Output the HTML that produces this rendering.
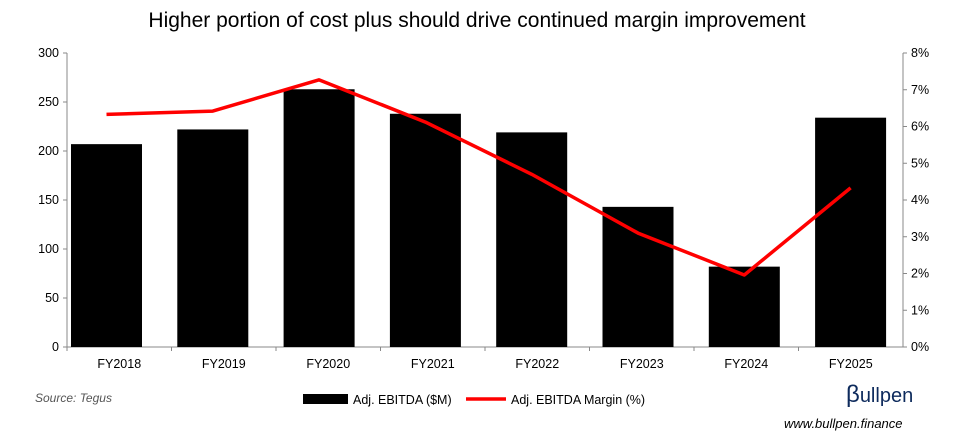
<!DOCTYPE html>
<html><head><meta charset="utf-8"><style>
body{margin:0;background:#fff;font-family:"Liberation Sans",sans-serif}
svg{display:block}
</style></head><body>
<svg id="c" width="955" height="446" xmlns="http://www.w3.org/2000/svg">
<text x="477" y="27" text-anchor="middle" font-size="21">Higher portion of cost plus should drive continued margin improvement</text>
<g id="g"></g>
<text x="35" y="402" font-size="12" font-style="italic" fill="#555">Source: Tegus</text>
<rect x="303" y="394" width="45" height="10" fill="#000"/>
<text x="353" y="404" font-size="12.5">Adj. EBITDA ($M)</text>
<line x1="466" y1="399" x2="506" y2="399" stroke="#f00" stroke-width="3.5"/>
<text x="511" y="404" font-size="12.5">Adj. EBITDA Margin (%)</text>
<text x="846" y="402" font-size="20" fill="#0d2a5c"><tspan fill="#0d2a5c" font-size="24">β</tspan>ullpen</text>
<text x="784" y="428" font-size="13" font-style="italic">www.bullpen.finance</text>
</svg>
<script>
const categories=["FY2018","FY2019","FY2020","FY2021","FY2022","FY2023","FY2024","FY2025"];
const ebitda=[207,222,263,238,219,143,82,234];
const margin=[6.33,6.42,7.27,6.12,4.7,3.1,1.96,4.33];
const leftTicks=[0,50,100,150,200,250,300];
const rightTicks=[0,1,2,3,4,5,6,7,8];
const NS="http://www.w3.org/2000/svg";
const g=document.getElementById('g');
const L=67,R=903,T=53,B=347;
const bw=(R-L)/categories.length;
const step=106.3;
const yL=v=>B-(v/300)*(B-T);
const yR=v=>B-(v/8)*(B-T);
const xC=i=>106.5+step*i;
function mk(t,a){const e=document.createElementNS(NS,t);for(const k in a)e.setAttribute(k,a[k]);g.appendChild(e);return e;}
let e;
e=mk('line',{x1:L,y1:T,x2:L,y2:B,stroke:'#888'});


e=mk('line',{x1:R,y1:T,x2:R,y2:B,stroke:'#888'});


e=mk('line',{x1:L,y1:B,x2:R,y2:B,stroke:'#888'});


leftTicks.forEach(v=>{
 mk('line',{x1:L-4,y1:yL(v),x2:L,y2:yL(v),stroke:'#888'});
 e=mk('text',{x:L-8,y:yL(v)+4,'text-anchor':'end','font-size':12.5});e.textContent=v;
 
 
});
rightTicks.forEach(v=>{
 mk('line',{x1:R,y1:yR(v),x2:R+4,y2:yR(v),stroke:'#888'});
 e=mk('text',{x:R+8,y:yR(v)+4,'font-size':12.5});e.textContent=v+'%';
 
 
});
categories.forEach((c,i)=>{
 mk('line',{x1:L+bw*i,y1:B,x2:L+bw*i,y2:B+4,stroke:'#888'});
 e=mk('rect',{x:xC(i)-35.5,y:yL(ebitda[i]),width:71,height:B-yL(ebitda[i]),fill:'#000'});
 
 
 e=mk('text',{x:L+bw*(i+0.5),y:B+21,'text-anchor':'middle','font-size':12.5});e.textContent=c;
 
 
});
e=mk('polyline',{points:margin.map((v,i)=>xC(i)+','+yR(v)).join(' '),fill:'none',stroke:'#f00','stroke-width':3.5,'stroke-linejoin':'round'});


</script>
</body></html>
